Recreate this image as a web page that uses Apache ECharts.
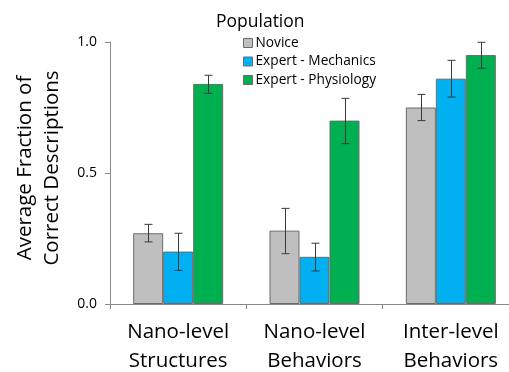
<!DOCTYPE html>
<html><head><meta charset="utf-8">
<script src="https://cdn.jsdelivr.net/npm/echarts@6/dist/echarts.min.js"></script>
<style>html,body{margin:0;padding:0;background:#fff}#c{width:509px;height:372px}</style>
</head><body><div id="c"></div>
<script>
const categories = ['Nano-level\nStructures', 'Nano-level\nBehaviors', 'Inter-level\nBehaviors'];
const seriesNames = ['Novice', 'Expert - Mechanics', 'Expert - Physiology'];
const novice = [0.27, 0.28, 0.75];
const mechanics = [0.20, 0.18, 0.86];
const physiology = [0.84, 0.70, 0.95];
const noviceLow = [0.237, 0.192, 0.70];
const noviceHigh = [0.304, 0.365, 0.80];
const mechLow = [0.128, 0.126, 0.79];
const mechHigh = [0.27, 0.232, 0.93];
const physLow = [0.804, 0.612, 0.90];
const physHigh = [0.873, 0.785, 0.999];
const colors = ['#bfbfbf', '#00b0f0', '#00b050'];
const FONT = 'Open Sans';

const values = [novice, mechanics, physiology];
const lows = [noviceLow, mechLow, physLow];
const highs = [noviceHigh, mechHigh, physHigh];

const barWidth = 30;
const series = [];
values.forEach((v, i) => {
  series.push({
    name: seriesNames[i], type: 'bar', data: v, barWidth: barWidth, barGap: '0%',
    itemStyle: { color: colors[i], borderColor: '#6b6b6b', borderWidth: 1 }
  });
});
values.forEach((v, i) => {
  series.push({
    type: 'custom', name: 'err' + i, silent: true, z: 10,
    data: categories.map((c, k) => [k, lows[i][k], highs[i][k]]),
    renderItem: function (params, api) {
      const x = api.coord([api.value(0), 0])[0];
      const offset = (i - 1) * barWidth;
      const cx = Math.round(x + offset) + 0.5;
      const lo = api.coord([api.value(0), api.value(1)])[1];
      const hi = api.coord([api.value(0), api.value(2)])[1];
      const cap = 4;
      const st = { stroke: '#3a3a3a', lineWidth: 1 };
      return { type: 'group', children: [
        { type: 'line', shape: { x1: cx, y1: lo, x2: cx, y2: hi }, style: st },
        { type: 'line', shape: { x1: cx - cap, y1: lo, x2: cx + cap, y2: lo }, style: st },
        { type: 'line', shape: { x1: cx - cap, y1: hi, x2: cx + cap, y2: hi }, style: st }
      ]};
    }
  });
});

const chart = echarts.init(document.getElementById('c'));
chart.setOption({
  animation: false,
  textStyle: { fontFamily: FONT },
  title: { text: 'Population', left: 211, top: 8,
    textStyle: { fontFamily: FONT, fontSize: 17.5, fontWeight: 'normal', color: '#000' } },
  legend: {
    data: seriesNames, orient: 'vertical', left: 238, top: 31,
    icon: 'rect', itemWidth: 9, itemHeight: 9, itemGap: 4.5,
    itemStyle: { borderColor: '#6b6b6b', borderWidth: 1 },
    textStyle: { fontFamily: FONT, fontSize: 13.7, lineHeight: 14, color: '#000', padding: [0, 0, 0, -2] }
  },
  grid: { left: 110, width: 409, top: 42, bottom: 68, outerBoundsMode: 'none', containLabel: false },
  xAxis: {
    type: 'category', data: categories,
    axisLine: { lineStyle: { color: '#888', width: 1 } },
    axisTick: { show: true, length: 5, lineStyle: { color: '#888' } },
    axisLabel: { color: '#000', fontSize: 20.5, fontFamily: FONT, margin: 14, lineHeight: 29 }
  },
  yAxis: {
    type: 'value', min: 0, max: 1, interval: 0.5,
    name: 'Average Fraction of\nCorrect Descriptions', nameLocation: 'middle', nameRotate: 90,
    nameGap: 44, nameTextStyle: { fontSize: 20.5, color: '#000', fontFamily: FONT, lineHeight: 27, padding: [0, 0, 0, 10] },
    axisLine: { show: true, lineStyle: { color: '#888', width: 1 } },
    axisTick: { show: true, length: 5, lineStyle: { color: '#888' } },
    splitLine: { show: false },
    axisLabel: { color: '#000', fontSize: 14, fontFamily: FONT, margin: 13, formatter: v => v.toFixed(1) }
  },
  series: series
});
</script></body></html>
